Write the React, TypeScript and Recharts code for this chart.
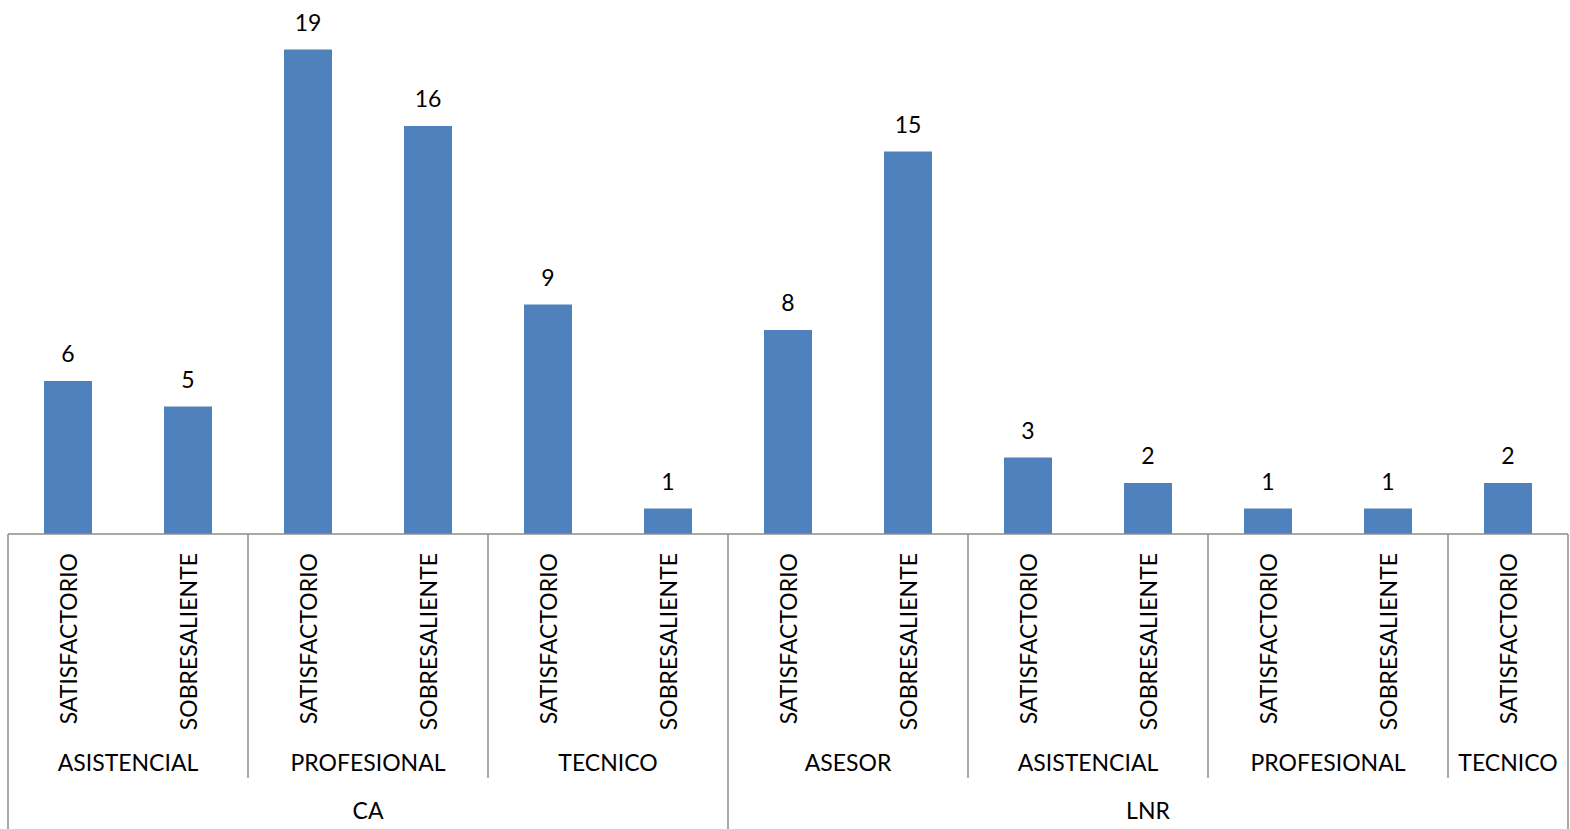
import { BarChart, Bar, XAxis, YAxis, LabelList } from 'recharts';

const ratings = [
  'SATISFACTORIO', 'SOBRESALIENTE', 'SATISFACTORIO', 'SOBRESALIENTE', 'SATISFACTORIO', 'SOBRESALIENTE',
  'SATISFACTORIO', 'SOBRESALIENTE', 'SATISFACTORIO', 'SOBRESALIENTE', 'SATISFACTORIO', 'SOBRESALIENTE',
  'SATISFACTORIO',
];
const levels = [
  'ASISTENCIAL', 'ASISTENCIAL', 'PROFESIONAL', 'PROFESIONAL', 'TECNICO', 'TECNICO',
  'ASESOR', 'ASESOR', 'ASISTENCIAL', 'ASISTENCIAL', 'PROFESIONAL', 'PROFESIONAL', 'TECNICO',
];
const contracts = ['CA', 'CA', 'CA', 'CA', 'CA', 'CA', 'LNR', 'LNR', 'LNR', 'LNR', 'LNR', 'LNR', 'LNR'];
const counts = [6, 5, 19, 16, 9, 1, 8, 15, 3, 2, 1, 1, 2];

const data = counts.map((v, i) => ({ id: i, rating: ratings[i], level: levels[i], contract: contracts[i], count: v }));

const FONT = 'Lato, sans-serif';
const FS = 23;
const LINE = '#8c8c8c';
const BAND = 1560 / counts.length;

// length of the run starting at i, where key(i) stays the same
const runLength = (i: number, same: (a: number, b: number) => boolean) => {
  let n = 1;
  while (i + n < data.length && same(i, i + n)) n++;
  return n;
};
const sameLevel = (a: number, b: number) => levels[a] === levels[b] && contracts[a] === contracts[b];
const sameContract = (a: number, b: number) => contracts[a] === contracts[b];

const AxisTick = (props: any) => {
  const { x, y, payload } = props;
  const i = payload.index;
  const half = BAND / 2;
  const els: any[] = [];
  const ty = y + 19;
  els.push(
    <text key="r" x={x} y={ty} transform={`rotate(-90 ${x} ${ty})`} textAnchor="end" dominantBaseline="central"
      fontFamily={FONT} fontSize={FS} fill="#000">{ratings[i]}</text>
  );
  const levelStart = i === 0 || !sameLevel(i - 1, i);
  const contractStart = i === 0 || !sameContract(i - 1, i);
  if (levelStart) {
    els.push(<line key="l2" x1={x - half} x2={x - half} y1={y} y2={contractStart ? y + 295 : y + 244} stroke={LINE} strokeWidth={1.5} />);
    const n = runLength(i, sameLevel);
    els.push(
      <text key="t2" x={x - half + (n * BAND) / 2} y={y + 228} textAnchor="middle" dominantBaseline="central"
        fontFamily={FONT} fontSize={FS} fill="#000">{levels[i]}</text>
    );
  }
  if (contractStart) {
    const n = runLength(i, sameContract);
    els.push(
      <text key="t3" x={x - half + (n * BAND) / 2} y={y + 276} textAnchor="middle" dominantBaseline="central"
        fontFamily={FONT} fontSize={FS} fill="#000">{contracts[i]}</text>
    );
  }
  if (i === data.length - 1) {
    els.push(<line key="end" x1={x + half} x2={x + half} y1={y} y2={y + 295} stroke={LINE} strokeWidth={1.5} />);
  }
  return <g>{els}</g>;
};

export default function App() {
  return (
    <div style={{ position: 'absolute', left: 0, top: 0, background: '#fff' }}>
      <BarChart width={1570} height={829} data={data} margin={{ top: 24, right: 2, left: 8, bottom: 0 }} barSize={48}>
        <XAxis dataKey="id" xAxisId={0} height={295} interval={0} tickSize={0} tickMargin={0} tickLine={false}
          axisLine={{ stroke: LINE, strokeWidth: 1.5 }} tick={<AxisTick />} />
        <YAxis hide domain={[0, 20]} />
        <Bar dataKey="count" fill="#4f81bd" isAnimationActive={false}>
          <LabelList dataKey="count" position="top" offset={19} fill="#000" fontFamily={FONT} fontSize={FS} />
        </Bar>
      </BarChart>
    </div>
  );
}
